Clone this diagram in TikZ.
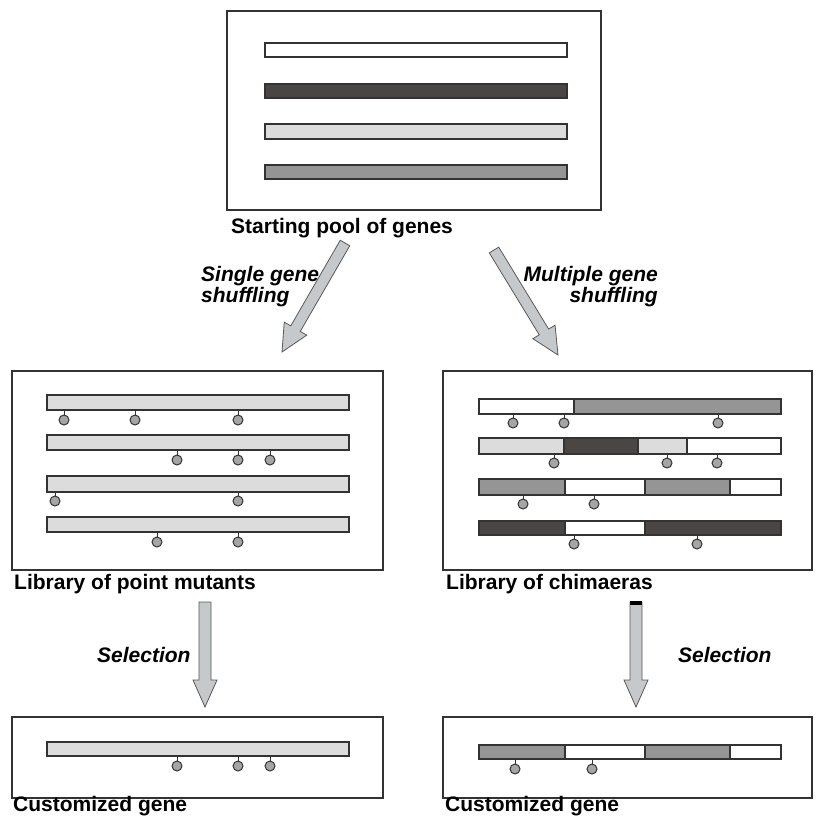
\documentclass[tikz,border=0pt]{standalone}
\usepackage{fontspec}
\setmainfont{Liberation Sans}
\usetikzlibrary{calc}
\definecolor{gdark}{HTML}{4A4643}
\definecolor{glight}{HTML}{DCDCDC}
\definecolor{gmid}{HTML}{959595}
\definecolor{arrowfill}{HTML}{C5C9CB}
\definecolor{lineclr}{HTML}{333333}
\tikzset{
  panel/.style={draw=lineclr, line width=1.4pt, fill=white},
  seg/.style={draw=lineclr, line width=1.2pt},
  stemline/.style={draw=lineclr, line width=0.9pt},
  mutdot/.style={draw=lineclr, line width=1pt, fill=gmid!85!white},
  fatarr/.style={draw=black!65, line width=0.8pt, fill=arrowfill},
  caption/.style={anchor=base west, inner sep=0pt, font=\fontsize{21}{21}\selectfont\bfseries},
  steplabel/.style={inner sep=0pt, font=\fontsize{21}{21}\selectfont\bfseries\itshape, align=left}
}
\newcommand\fatarrow[4]{% start, tip, half shaft, half head
  \coordinate (#1#2h) at ($(#2)!27pt!(#1)$);
  \path[fatarr] ($(#1)!#3!90:(#2)$) -- ($(#1#2h)!#3!90:(#2)$) -- ($(#1#2h)!#4!90:(#2)$)
    -- (#2) -- ($(#1#2h)!#4!-90:(#2)$) -- ($(#1#2h)!#3!-90:(#2)$) -- ($(#1)!#3!-90:(#2)$) -- cycle;
}
\newcommand\mutat[3]{% x, bar bottom, circle center
  \draw[stemline] (#1,#2) -- (#1,#3-5);
  \draw[mutdot] (#1,#3) circle[radius=5pt];
}
\begin{document}
\begin{tikzpicture}[x=1pt,y=-1pt]
\useasboundingbox (0,0) rectangle (815,816);
\fill[white] (0,0) rectangle (815,816);

% panels
\node[panel, minimum width=374pt, minimum height=199pt, inner sep=0pt] (pool) at (414,110.5) {};
\node[panel, minimum width=371pt, minimum height=199pt, inner sep=0pt] (lpm) at (197.5,470.5) {};
\node[panel, minimum width=369pt, minimum height=199pt, inner sep=0pt] (lch) at (627.5,470.5) {};
\node[panel, minimum width=371pt, minimum height=81pt, inner sep=0pt] (cgl) at (197.5,757.5) {};
\node[panel, minimum width=369pt, minimum height=81pt, inner sep=0pt] (cgr) at (627.5,757.5) {};

% starting pool bars
\draw[seg, fill=white] (265,43) rectangle (567,57);
\draw[seg, fill=gdark] (265,84) rectangle (567,98);
\draw[seg, fill=glight] (265,124) rectangle (567,139);
\draw[seg, fill=gmid] (265,165) rectangle (567,179);

% library of point mutants
\draw[seg, fill=glight] (47,395) rectangle (349,410);
\mutat{64}{410}{420}\mutat{135}{410}{420}\mutat{238}{410}{420}
\draw[seg, fill=glight] (47,435) rectangle (349,450);
\mutat{177}{450}{460}\mutat{238}{450}{460}\mutat{270}{450}{460}
\draw[seg, fill=glight] (47,476) rectangle (349,492);
\mutat{55}{492}{501}\mutat{238}{492}{501}
\draw[seg, fill=glight] (47,517) rectangle (349,532);
\mutat{157}{532}{542}\mutat{238}{532}{542}

% library of chimaeras
\draw[seg, fill=white] (479,399) rectangle (574,414);
\draw[seg, fill=gmid] (574,399) rectangle (781,414);
\mutat{513}{414}{423}\mutat{564}{414}{423}\mutat{718}{414}{423}
\draw[seg, fill=glight] (479,438) rectangle (564,454);
\draw[seg, fill=gdark] (564,438) rectangle (638,454);
\draw[seg, fill=glight] (638,438) rectangle (687,454);
\draw[seg, fill=white] (687,438) rectangle (781,454);
\mutat{554}{454}{463}\mutat{667}{454}{463}\mutat{717}{454}{463}
\draw[seg, fill=gmid] (479,479) rectangle (565,495);
\draw[seg, fill=white] (565,479) rectangle (645,495);
\draw[seg, fill=gmid] (645,479) rectangle (730,495);
\draw[seg, fill=white] (730,479) rectangle (781,495);
\mutat{523}{495}{504}\mutat{594}{495}{504}
\draw[seg, fill=gdark] (479,521) rectangle (565,535);
\draw[seg, fill=white] (565,521) rectangle (645,535);
\draw[seg, fill=gdark] (645,521) rectangle (781,535);
\mutat{574}{535}{544}\mutat{697}{535}{544}

% customized genes
\draw[seg, fill=glight] (47,742) rectangle (349,756);
\mutat{177}{756}{766}\mutat{238}{756}{766}\mutat{270}{756}{766}
\draw[seg, fill=gmid] (479,745) rectangle (565,759);
\draw[seg, fill=white] (565,745) rectangle (645,759);
\draw[seg, fill=gmid] (645,745) rectangle (730,759);
\draw[seg, fill=white] (730,745) rectangle (781,759);
\mutat{515}{759}{769}\mutat{592}{759}{769}

% captions
\node[caption] (cap1) at (231,233) {Starting pool of genes};
\node[caption] (cap2) at (14,589) {Library of point mutants};
\node[caption] (cap3) at (446,589) {Library of chimaeras};
\node[caption] (cap4) at (13,811) {Customized gene};
\node[caption] (cap5) at (445,811) {Customized gene};

% arrows
\coordinate (a1s) at (345,243);
\coordinate (a1t) at (282,352);
\coordinate (a2s) at (494,250);
\coordinate (a2t) at (558,355);
\coordinate (a3s) at (205,602);
\coordinate (a3t) at (205,707);
\coordinate (a4s) at (636,602);
\coordinate (a4t) at (636,707);
\fatarrow{a1s}{a1t}{5.5pt}{13pt}
\fatarrow{a2s}{a2t}{5.5pt}{13pt}
\fatarrow{a3s}{a3t}{6pt}{12pt}
\fatarrow{a4s}{a4t}{6pt}{12pt}
\fill[black] (630,601) rectangle (642,604.5);

% arrow labels
\node[steplabel, anchor=base west] (l1a) at (201,281) {Single gene};
\node[steplabel, anchor=base west] (l1b) at (201,302) {shuffling};
\node[steplabel, anchor=base east] (l2a) at (658,281) {Multiple gene};
\node[steplabel, anchor=base east] (l2b) at (658,302) {shuffling};
\node[steplabel, anchor=base west] (l3) at (97,662) {Selection};
\node[steplabel, anchor=base west] (l4) at (678,662) {Selection};
\end{tikzpicture}
\end{document}
